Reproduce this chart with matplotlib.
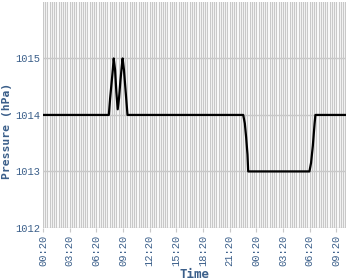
import numpy as np
import matplotlib.pyplot as plt

# hours since 00:20 on day one, pressure in hPa (breakpoints)
hours = [0.0, 7.40, 7.55, 7.70, 7.85, 7.95, 8.10, 8.25, 8.40, 8.55, 8.70, 8.85, 8.95,
         9.10, 9.30, 9.50, 22.52, 22.70, 22.85, 23.00, 23.08, 29.97, 30.15, 30.35,
         30.55, 30.64, 34.1]
pressure = [1014.0, 1014.0, 1014.3, 1014.55, 1014.8, 1015.0, 1014.8, 1014.4, 1014.1,
            1014.3, 1014.6, 1014.85, 1015.0, 1014.8, 1014.4, 1014.0, 1014.0, 1013.85,
            1013.6, 1013.3, 1013.0, 1013.0, 1013.15, 1013.45, 1013.85, 1014.0, 1014.0]

tick_hours = [0, 3, 6, 9, 12, 15, 18, 21, 24, 27, 30, 33]
tick_labels = ["00:20", "03:20", "06:20", "09:20", "12:20", "15:20", "18:20",
               "21:20", "00:20", "03:20", "06:20", "09:20"]
y_ticks = [1012, 1013, 1014, 1015]

label_color = "#3b5f8a"
grid_color = "#c8c8c8"

fig = plt.figure(figsize=(3.5, 2.8), dpi=100)
ax = fig.add_axes([0.123, 0.186, 0.866, 0.807])

# dense vertical grid every 15 minutes
for x in np.arange(0, hours[-1] + 0.01, 0.25):
    ax.axvline(x, color=grid_color, lw=0.9, zorder=0)
for y in y_ticks:
    ax.axhline(y, color=grid_color, lw=1.0, zorder=0)

ax.plot(hours, pressure, color="black", lw=1.6, zorder=3)

ax.set_xlim(0, hours[-1])
ax.set_ylim(1012, 1016)
ax.set_xticks(tick_hours)
ax.set_xticklabels(tick_labels, rotation=90, family="Liberation Mono",
                   fontsize=7.5, color=label_color)
ax.set_yticks(y_ticks)
ax.set_yticklabels([str(v) for v in y_ticks], family="Liberation Mono",
                   fontsize=7.5, color=label_color)
ax.tick_params(axis="x", length=3, color=grid_color, pad=2)
ax.tick_params(axis="y", length=0, pad=2)
for s in ax.spines.values():
    s.set_visible(False)

ax.set_xlabel("Time", family="DejaVu Sans Mono", fontweight="bold",
              fontsize=9, color=label_color, labelpad=1)
ax.set_ylabel("Pressure (hPa)", family="DejaVu Sans Mono", fontweight="bold",
              fontsize=8.2, color=label_color, va="center", ha="center")
ax.yaxis.set_label_coords(-0.118, 0.43)

fig.savefig("out.png", dpi=100)
